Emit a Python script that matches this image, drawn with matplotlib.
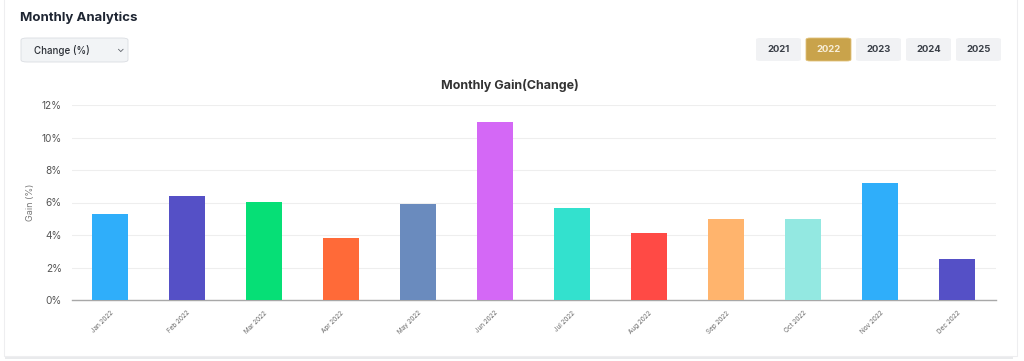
import numpy as np
import matplotlib.pyplot as plt
from matplotlib.patches import FancyBboxPatch, Rectangle

months = ['Jan 2022', 'Feb 2022', 'Mar 2022', 'Apr 2022', 'May 2022', 'Jun 2022',
          'Jul 2022', 'Aug 2022', 'Sep 2022', 'Oct 2022', 'Nov 2022', 'Dec 2022']
gain = [5.29, 6.4, 6.03, 3.8, 5.9, 10.95, 5.68, 4.12, 4.98, 5.0, 7.17, 2.52]
colors = ['#2FAEFA', '#5550C6', '#06DF76', '#FF6A38', '#6A8BBE', '#D468F6',
          '#33E1CE', '#FF4A45', '#FFB46D', '#93E8E1', '#2FAEFA', '#5550C6']
years = ['2021', '2022', '2023', '2024', '2025']
active_year = '2022'

W, H = 1024, 361
plt.rcParams['font.family'] = ['Inter', 'DejaVu Sans']
fig = plt.figure(figsize=(W / 100, H / 100), dpi=100)
fig.patch.set_facecolor('white')


def fx(px):
    return px / W


def fy(py):
    return 1 - py / H


# card
fig.patches.append(Rectangle((fx(5), fy(359)), fx(1013) - fx(5), fy(0) - fy(359) + 0.01,
                             transform=fig.transFigure, facecolor='#E9EAEC', edgecolor='none', zorder=0))
fig.patches.append(Rectangle((fx(4), fy(356)), fx(1013), fy(0) - fy(356) + 0.01,
                             transform=fig.transFigure, facecolor='white', edgecolor='#EEEEF0',
                             linewidth=0.8, zorder=0.5))

fig.text(fx(20), fy(18), 'Monthly Analytics', fontsize=9.5, fontweight='bold',
         color='#1F2633', va='center', ha='left')

# dropdown
fig.patches.append(FancyBboxPatch((fx(21), fy(62)), fx(107), fy(38) - fy(62),
                                  boxstyle='round,pad=0,rounding_size=0.006', transform=fig.transFigure,
                                  facecolor='#F2F4F6', edgecolor='#DADDE2', linewidth=0.6, zorder=1))
fig.text(fx(34), fy(50), 'Change (%)', fontsize=7, fontweight='medium', color='#2B2F36',
         va='center', ha='left')
fig.text(fx(120), fy(49), '⌄', fontsize=7, color='#555A62', va='center', ha='center')

# year buttons
x0 = 756
for y in years:
    active = y == active_year
    fig.patches.append(FancyBboxPatch((fx(x0), fy(61)), fx(45), fy(38) - fy(61),
                                      boxstyle='round,pad=0,rounding_size=0.004', transform=fig.transFigure,
                                      facecolor='#C9A34B' if active else '#F1F2F4',
                                      edgecolor='#E2C27A' if active else 'none', linewidth=0.6, zorder=1))
    fig.text(fx(x0 + 22.5), fy(49.5), y, fontsize=6.8, fontweight='bold',
             color='#F7EED8' if active else '#3A3F47', va='center', ha='center')
    x0 += 50

ax = fig.add_axes([fx(71.5), fy(300), fx(995.5) - fx(71.5), fy(105) - fy(300)])
ax.set_zorder(2)
ax.patch.set_alpha(0)
x = np.arange(len(months))
ax.bar(x, gain, width=0.47, color=colors, zorder=3)
ax.set_xlim(-0.5, len(months) - 0.5)
ax.set_ylim(0, 12)
ax.set_yticks(np.arange(0, 13, 2))
ax.set_yticklabels([f'{v}%' for v in range(0, 13, 2)], fontsize=7.3, color='#555')
ax.set_xticks(x)
ax.set_xticklabels(months, rotation=45, ha='right', rotation_mode='anchor', fontsize=4.6, color='#666')
ax.tick_params(axis='both', length=0)
ax.tick_params(axis='y', pad=7)
ax.tick_params(axis='x', pad=7)
ax.grid(axis='y', color='#EEEEEE', linewidth=0.8, zorder=0)
for s in ['top', 'right', 'left']:
    ax.spines[s].set_visible(False)
ax.spines['bottom'].set_color('#A8A8A8')
ax.spines['bottom'].set_linewidth(1.0)
ax.set_ylabel('Gain (%)', fontsize=6.5, color='#777', labelpad=5)
fig.text(fx(510), fy(85), 'Monthly Gain(Change)', fontsize=9, fontweight='bold',
         color='#333', va='center', ha='center')

fig.savefig('out.png', dpi=100)
